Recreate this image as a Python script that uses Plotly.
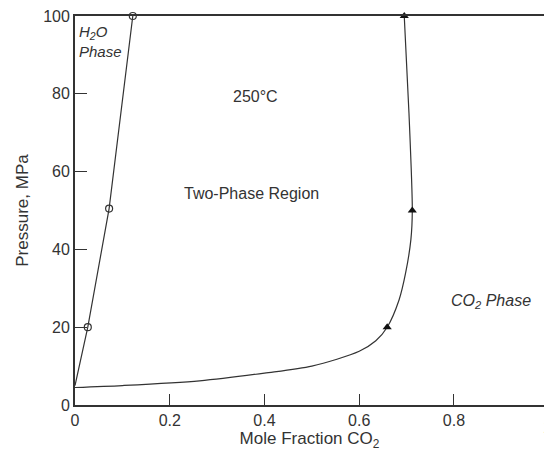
import plotly.graph_objects as go

# H2O-rich phase boundary (open circles)
h2o_line_x = [0.0, 0.027, 0.072, 0.122]
h2o_line_p = [5.0, 20.0, 50.5, 100.0]
h2o_pts_x = [0.027, 0.072, 0.122]
h2o_pts_p = [20.0, 50.5, 100.0]

# CO2-rich phase boundary (filled triangles)
co2_line_x = [0.0, 0.1, 0.263, 0.4, 0.5, 0.6, 0.635, 0.659, 0.684, 0.698, 0.709, 0.712, 0.705, 0.695]
co2_line_p = [4.5, 5.0, 6.2, 8.2, 10.0, 13.8, 16.5, 20.0, 27.0, 34.0, 42.5, 50.0, 75.0, 100.0]
co2_pts_x = [0.659, 0.712, 0.695]
co2_pts_p = [20.0, 50.0, 100.0]

x_ticks = [0, 0.2, 0.4, 0.6, 0.8]
x_tick_text = ["0", "0.2", "0.4", "0.6", "0.8"]
y_ticks = [0, 20, 40, 60, 80, 100]

INK = "#333333"
FONT = "Liberation Sans, Arial, sans-serif"

fig = go.Figure()
fig.add_trace(go.Scatter(x=h2o_line_x, y=h2o_line_p, mode="lines",
                         line=dict(color=INK, width=1.2), showlegend=False, hoverinfo="skip"))
fig.add_trace(go.Scatter(x=co2_line_x, y=co2_line_p, mode="lines",
                         line=dict(color=INK, width=1.2, shape="spline", smoothing=0.8),
                         showlegend=False, hoverinfo="skip"))
fig.add_trace(go.Scatter(x=h2o_pts_x, y=h2o_pts_p, mode="markers",
                         marker=dict(symbol="circle-open", size=7, color=INK, line=dict(width=1.2)),
                         showlegend=False, cliponaxis=False))
fig.add_trace(go.Scatter(x=co2_pts_x, y=co2_pts_p, mode="markers",
                         marker=dict(symbol="triangle-up", size=8, color="#111111"),
                         showlegend=False, cliponaxis=False))

ann_font = dict(family=FONT, size=16, color=INK)
fig.add_annotation(x=0.004, y=98.8, text="<i>H<sub>2</sub>O<br>Phase</i>", showarrow=False,
                   xanchor="left", yanchor="top", align="left", font=dict(family=FONT, size=15, color=INK))
fig.add_annotation(x=0.381, y=79.2, text="250°C", showarrow=False, font=ann_font)
fig.add_annotation(x=0.373, y=54.5, text="Two-Phase Region", showarrow=False, font=ann_font)
fig.add_annotation(x=0.878, y=26.5, text="<i>CO<sub>2</sub> Phase</i>", showarrow=False, font=ann_font)
# partially visible "1" tick label at the right edge (axis continues past the frame)
fig.add_annotation(xref="paper", x=1.0, yref="paper", y=0, yshift=-12, xshift=-3,
                   xanchor="left", yanchor="top", text="1", showarrow=False,
                   font=dict(family=FONT, size=16, color=INK))

fig.update_layout(
    width=544, height=457,
    margin=dict(l=75, r=0, t=16, b=52),
    paper_bgcolor="white", plot_bgcolor="white",
    font=dict(family=FONT, size=16, color=INK),
    xaxis=dict(range=[0, 0.99], tickvals=x_ticks, ticktext=x_tick_text,
               ticks="inside", ticklen=11, tickwidth=1.2, tickcolor=INK,
               showline=True, linecolor=INK, linewidth=1.8, mirror=True,
               showgrid=False, zeroline=False, automargin=False,
               title=dict(text="Mole Fraction CO<sub>2</sub>", font=dict(size=17), standoff=4)),
    yaxis=dict(range=[0, 100], tickvals=y_ticks,
               ticks="inside", ticklen=12, tickwidth=1.2, tickcolor=INK,
               showline=True, linecolor=INK, linewidth=1.8, mirror=False,
               showgrid=False, zeroline=False, automargin=False,
               title=dict(text="Pressure, MPa", font=dict(size=17), standoff=10)),
)

fig.write_html("out.html", config={"displayModeBar": False},
               post_script="document.body.style.margin='0px';")
